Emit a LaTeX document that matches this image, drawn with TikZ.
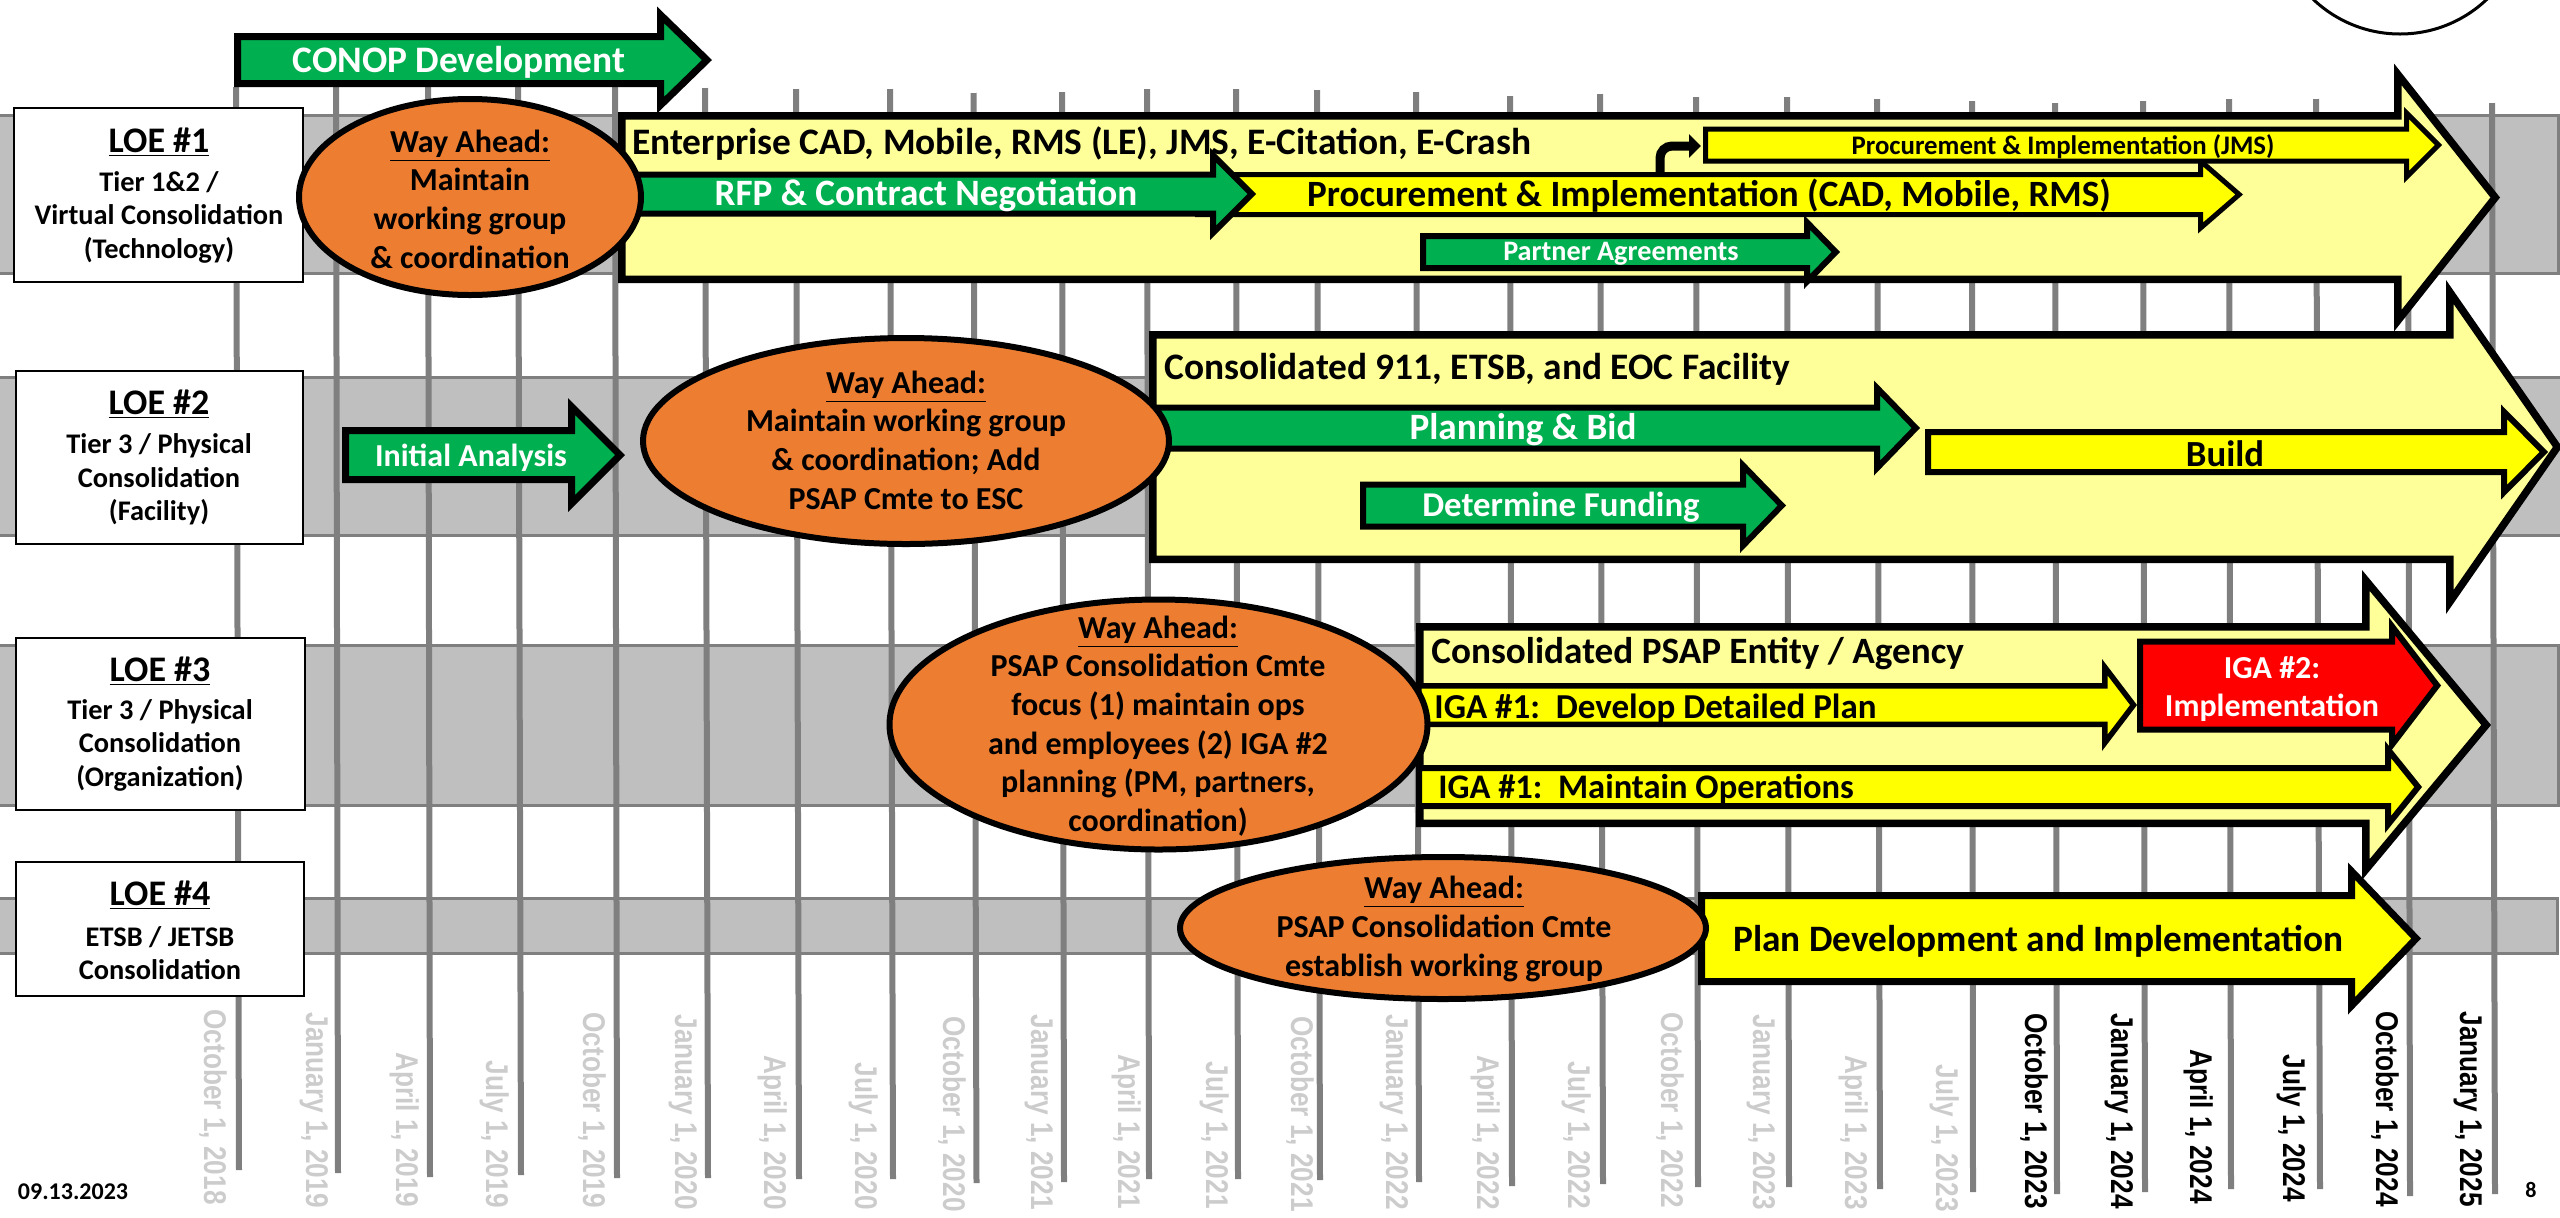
\documentclass[tikz,border=0pt]{standalone}
\usepackage{fontspec}
\setmainfont{Carlito}
\newfontfamily\datefont{Liberation Sans}
\usetikzlibrary{arrows.meta}
\definecolor{cgreen}{HTML}{00B050}
\definecolor{cyellow}{HTML}{FFFF00}
\definecolor{cpale}{HTML}{FFFF99}
\definecolor{corange}{HTML}{ED7D31}
\definecolor{cred}{HTML}{FF0000}
\definecolor{cband}{HTML}{BFBFBF}
\definecolor{cline}{HTML}{7F7F7F}
\definecolor{cdate}{HTML}{CCCCCC}
% x0 = outer left, hx = outer head base, tip = outer tip, yc = centre,
% sh = outer half shaft, hh = outer half head, lw, fill
\newcommand{\arw}[8]{%
  \pgfmathsetmacro\arwtan{#6/(#3-#2)}%
  \pgfmathsetmacro\arwsin{sin(atan(\arwtan))}%
  \pgfmathsetmacro\arwtip{#3-#7/2/\arwsin}%
  \pgfmathsetmacro\arwhx{#2+#7/2}%
  \pgfmathsetmacro\arwH{(\arwtip-\arwhx)*\arwtan}%
  \pgfmathsetmacro\arwxl{#1+#7/2}%
  \pgfmathsetmacro\arwS{#5-#7/2}%
  \draw[black,line width=#7*0.5pt,fill=#8,miter limit=10]
    (\arwxl,#4-\arwS) -- (\arwhx,#4-\arwS) -- (\arwhx,#4-\arwH) -- (\arwtip,#4)
    -- (\arwhx,#4+\arwH) -- (\arwhx,#4+\arwS) -- (\arwxl,#4+\arwS) -- cycle;}
\newcommand{\px}[1]{\fontsize{#1}{#1}\selectfont}
\tikzset{
  band/.style={draw=cline,line width=1.5pt,fill=cband},
  gridline/.style={draw=cline,line width=3pt},
  loebox/.style={draw=black,line width=1pt,fill=white},
  wayellipse/.style={draw=black,line width=3pt,fill=corange},
  txt/.style={inner sep=0pt,font=\bfseries,text=black,align=center},
  stxt/.style={txt,yshift=-1pt},
  wtxt/.style={stxt,text=white},
  ltxt/.style={stxt,anchor=west,align=left},
  datelabel/.style={inner sep=0pt,rotate=-90,anchor=base east},
  loehead/.style={txt,yshift=-0.3pt,font=\bfseries\fontsize{18}{18}\selectfont},
  loesub/.style={txt,yshift=-1.2pt,font=\bfseries\fontsize{14.2}{16.6}\selectfont},
  waytxt/.style={txt,font=\bfseries\fontsize{16}{19.3}\selectfont},
}
\begin{document}
\begin{tikzpicture}[x=0.5pt,y=-0.5pt]
\path[use as bounding box] (0,0) rectangle (2560,1217);
\clip (0,0) rectangle (2560,1217);
% bands
\draw[band] (-4,115) rectangle (2558,273);
\draw[band] (-4,377) rectangle (2564,535);
\draw[band] (-4,645) rectangle (2558,805);
\draw[band] (-4,898) rectangle (2557,953);
% timeline rules and dates
\foreach \n/\xa/\ya/\xb/\yb/\xc/\ye/\lab/\col in {
 1/236/87/239/1170/215/1205/{October 1, 2018}/cdate,
 2/336/87/338/1173/317/1208/{January 1, 2019}/cdate,
 3/428/87/430/1177/407/1207/{April 1, 2019}/cdate,
 4/518/87/521/1175/497/1208/{July 1, 2019}/cdate,
 5/615/87/617/1178/594/1208/{October 1, 2019}/cdate,
 6/705/88/708/1178/686/1210/{January 1, 2020}/cdate,
 7/796/89/799/1179/775/1210/{April 1, 2020}/cdate,
 8/890/89/893/1179/866/1210/{July 1, 2020}/cdate,
 9/973.5/93/976.5/1183/954/1212/{October 1, 2020}/cdate,
 10/1062/92/1064/1182/1042/1210/{January 1, 2021}/cdate,
 11/1147/89/1149/1179/1129/1209/{April 1, 2021}/cdate,
 12/1236/89/1238/1179/1217/1209/{July 1, 2021}/cdate,
 13/1317/90/1320/1180/1302/1212/{October 1, 2021}/cdate,
 14/1416/92/1419/1182/1397/1210/{January 1, 2022}/cdate,
 15/1510/96/1512/1186/1488/1210/{April 1, 2022}/cdate,
 16/1600/94/1603/1184/1579/1209/{July 1, 2022}/cdate,
 17/1696/97/1698/1187/1672/1208/{October 1, 2022}/cdate,
 18/1787/97/1789/1187/1764/1210/{January 1, 2023}/cdate,
 19/1877/99/1880/1189/1856/1210/{April 1, 2023}/cdate,
 20/1972/101/1973/1192/1947/1212/{July 1, 2023}/cdate,
 21/2055/103/2057/1194/2036/1209/{October 1, 2023}/black,
 22/2143/101/2145/1192/2122/1209/{January 1, 2024}/black,
 23/2229/99/2231/1189/2201/1204/{April 1, 2024}/black,
 24/2316/99/2320/1189/2294/1202/{July 1, 2024}/black,
 25/2408/106/2410/1196/2387/1207/{October 1, 2024}/black,
 26/2492/103/2495/1194/2471/1207/{January 1, 2025}/black}{
  \draw[gridline] (\xa,\ya) -- (\xb,\yb);
  \node[datelabel,text=\col] (date\n) at (\xc-11,\ye)
    {\scalebox{1}[1.2]{\datefont\bfseries\fontsize{13.1}{13.1}\selectfont \lab}};
}
% top circle
\draw[black,line width=1.5pt,fill=white] (2400,-92) circle (126);
% LOE boxes
\draw[loebox] (14,108) rectangle (303,282);
\draw[loebox] (16,371) rectangle (303,544);
\draw[loebox] (16,638) rectangle (305,810);
\draw[loebox] (16,862) rectangle (304,996);
\node[loehead] (loe1) at (159,142) {\underline{LOE \#1}};
\node[loesub] (loe1s) at (159,215) {Tier 1\&2 /\\Virtual Consolidation\\(Technology)};
\node[loehead] (loe2) at (159,404) {\underline{LOE \#2}};
\node[loesub] (loe2s) at (159,477) {Tier 3 / Physical\\Consolidation\\(Facility)};
\node[loehead] (loe3) at (160,671) {\underline{LOE \#3}};
\node[loesub] (loe3s) at (160,743) {Tier 3 / Physical\\Consolidation\\(Organization)};
\node[loehead] (loe4) at (160,895) {\underline{LOE \#4}};
\node[loesub] (loe4s) at (160,951) {ETSB / JETSB\\Consolidation};
% CONOP and initial analysis
\arw{234}{657}{712}{60}{27}{53.5}{7}{cgreen}
\node[wtxt,font=\bfseries\px{18.7}] (conop) at (459,60) {CONOP Development};
\arw{342}{568}{625}{455}{28}{57}{7}{cgreen}
\node[wtxt,font=\bfseries\px{16}] (initial) at (471,456) {Initial Analysis};
% LOE 1 arrows
\arw{618}{2394}{2500}{197.5}{85.5}{134}{7.5}{cpale}
\node[ltxt,font=\bfseries\px{18.7}] (ent) at (632,142) {Enterprise CAD, Mobile, RMS (LE), JMS, E-Citation, E-Crash};
\arw{1195}{2198}{2243}{194.5}{22.5}{39}{5}{cyellow}
\arw{618}{1210}{1256}{194}{22.5}{46}{6}{cgreen}
\node[wtxt,font=\bfseries\px{18.6}] (rfp) at (926,194) {RFP \& Contract Negotiation};
\node[stxt,font=\bfseries\px{18.55}] (proc) at (1709,194) {Procurement \& Implementation (CAD, Mobile, RMS)};
\arw{1703}{2404}{2442}{145}{18.5}{38}{5}{cyellow}
\node[stxt,font=\bfseries\px{13.4}] (jms) at (2063,145) {Procurement \& Implementation (JMS)};
\arw{1420}{1804}{1840}{252}{19}{37}{6}{cgreen}
\node[wtxt,font=\bfseries\px{14.1}] (partner) at (1621,252) {Partner Agreements};
\coordinate (bentfrom) at (1660,172);
\coordinate (bentto) at (1701,146);
\draw[black,line width=4.5pt,rounded corners=6pt,-{Triangle[length=6pt,width=11.5pt]}] (bentfrom) |- (bentto);
% LOE 2 arrows
\arw{1149}{2446}{2562}{447}{116}{167}{7.5}{cpale}
\node[ltxt,font=\bfseries\px{18.7}] (fac) at (1164,367) {Consolidated 911, ETSB, and EOC Facility};
\arw{1155}{1874}{1920}{428}{23.5}{47.5}{6}{cgreen}
\node[wtxt,font=\bfseries\px{18.6}] (plan) at (1523,428) {Planning \& Bid};
\arw{1360}{1740}{1786}{505.5}{24}{47.5}{6}{cgreen}
\node[wtxt,font=\bfseries\px{17.4}] (fund) at (1561,505) {Determine Funding};
\arw{1925}{2501}{2548}{452}{23}{47.5}{6}{cyellow}
\node[stxt,font=\bfseries\px{18.4}] (build) at (2225,452) {Build};
% LOE 3 arrows
\arw{1416}{2362}{2491}{725}{102}{155}{7.5}{cpale}
\node[ltxt,font=\bfseries\px{18.6}] (psap) at (1431,652) {Consolidated PSAP Entity / Agency};
\arw{1416}{2102}{2137}{705}{22}{46}{5.5}{cyellow}
\node[ltxt,font=\bfseries\px{17.5}] (iga1a) at (1434,707) {IGA \#1:\ \ Develop Detailed Plan};
\arw{1416}{2385}{2422}{787}{22}{46}{6}{cyellow}
\node[ltxt,font=\bfseries\px{17.25}] (iga1b) at (1438,787) {IGA \#1:\ \ Maintain Operations};
\arw{2137}{2389}{2441}{685.5}{47}{68}{6}{cred}
\node[wtxt,font=\bfseries\fontsize{16}{19}\selectfont] (iga2) at (2272,687) {IGA \#2:\\Implementation};
% LOE 4 arrow
\arw{1698}{2348}{2421}{938.5}{46.5}{76}{7}{cyellow}
\node[ltxt,font=\bfseries\px{18.65}] (pdev) at (1733,939) {Plan Development and Implementation};
% way ahead ellipses
\draw[wayellipse] (470,197) ellipse [x radius=171,y radius=98];
\node[waytxt] (way1) at (470,199) {\underline{Way Ahead:}\\Maintain\\working group\\\& coordination};
\draw[wayellipse] (906,441) ellipse [x radius=263,y radius=103];
\node[waytxt] (way2) at (906,440) {\underline{Way Ahead:}\\Maintain working group\\\& coordination; Add\\PSAP Cmte to ESC};
\draw[wayellipse] (1158.5,724.5) ellipse [x radius=269,y radius=125];
\node[waytxt] (way3) at (1158,726) {\underline{Way Ahead:}\\PSAP Consolidation Cmte\\focus (1) maintain ops\\and employees (2) IGA \#2\\planning (PM, partners,\\coordination)};
\draw[wayellipse] (1443,928) ellipse [x radius=263,y radius=71];
\node[waytxt] (way4) at (1444,929) {\underline{Way Ahead:}\\PSAP Consolidation Cmte\\establish working group};
% footer
\node[txt,font=\bfseries\px{12}] (stamp) at (73,1192) {09.13.2023};
\node[txt,font=\bfseries\px{11}] (page) at (2531,1190) {8};
\end{tikzpicture}
\end{document}
